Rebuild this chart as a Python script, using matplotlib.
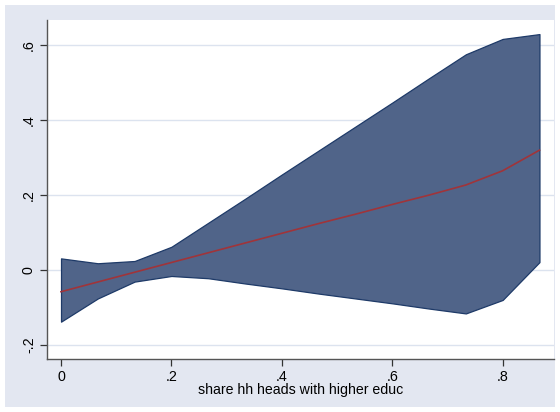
import matplotlib
matplotlib.use("Agg")
import matplotlib.pyplot as plt
import numpy as np

plt.rcParams['font.family'] = ['Liberation Sans', 'DejaVu Sans']

# share of hh heads with higher educ, steps of 1/15
x = np.arange(14) / 15.0
fit = [-0.058, -0.032, -0.006, 0.020, 0.046, 0.072, 0.098, 0.124, 0.149, 0.175, 0.200, 0.227, 0.265, 0.320]
upper = [0.031, 0.018, 0.024, 0.062, 0.126, 0.190, 0.255, 0.319, 0.383, 0.447, 0.512, 0.576, 0.617, 0.630]
lower = [-0.138, -0.076, -0.031, -0.016, -0.022, -0.036, -0.049, -0.063, -0.076, -0.089, -0.103, -0.116, -0.080, 0.021]

yticks = [-0.2, 0, 0.2, 0.4, 0.6]
ytick_labels = ['-.2', '0', '.2', '.4', '.6']
xticks = [0, 0.2, 0.4, 0.6, 0.8]
xtick_labels = ['0', '.2', '.4', '.6', '.8']

fig = plt.figure(figsize=(5.6, 4.12), dpi=100)
fig.patch.set_facecolor('white')
# Stata-like outer graph region
fig.patches.append(plt.Rectangle((5/560, 5/412), 550/560, 402/412, transform=fig.transFigure,
                                 facecolor='#E3E7F1', edgecolor='none', zorder=-10))
ax = fig.add_axes([47/560, 1 - 359/412, 507/560, 339/412])
ax.set_facecolor('white')

ax.fill_between(x, lower, upper, facecolor='#506489', edgecolor='#1E3A68', linewidth=0.9, zorder=2)
ax.plot(x, fit, color='#A0343A', linewidth=1.2, zorder=3)

ax.set_xlim(-0.0254, 0.893)
ax.set_ylim(-0.2377, 0.6676)
ax.set_yticks(yticks)
ax.set_yticklabels(ytick_labels, rotation=90, va='center')
ax.set_xticks(xticks)
ax.set_xticklabels(xtick_labels)
ax.grid(axis='y', color='#DCE3EF', linewidth=1.0, zorder=1)
ax.grid(axis='x', visible=False)

for s in ['top', 'right']:
    ax.spines[s].set_visible(False)
for s in ['left', 'bottom']:
    ax.spines[s].set_color('#555555')
    ax.spines[s].set_linewidth(1.0)
ax.tick_params(direction='out', length=5, width=0.9, color='#333333', labelsize=10.3, pad=3)
ax.set_xlabel('share hh heads with higher educ', fontsize=10.2, labelpad=-1)

fig.savefig('out.png', dpi=100, facecolor=fig.get_facecolor())
